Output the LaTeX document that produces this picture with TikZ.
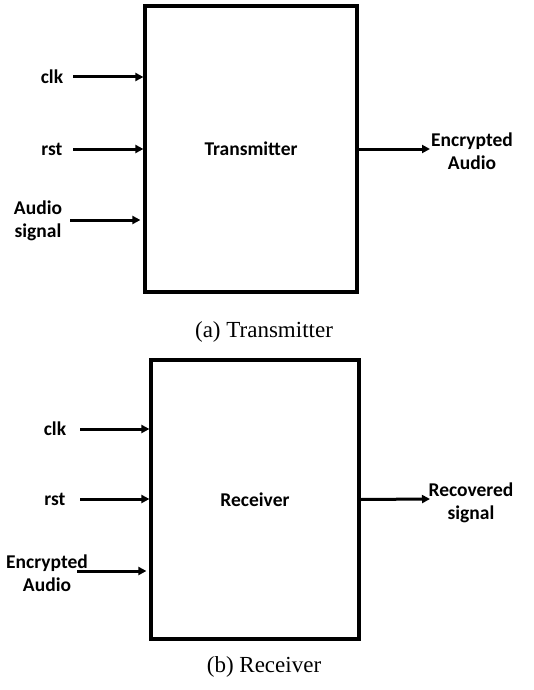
\documentclass[tikz,border=0pt]{standalone}
\usepackage{fontspec}
\setmainfont{Liberation Serif}
\newfontfamily\lblfont{Carlito}
\usetikzlibrary{arrows.meta}

\tikzset{
    block/.style={draw, line width=3.2pt, font=\lblfont\bfseries\fontsize{19.5}{22}\selectfont},
    pin/.style={font=\lblfont\bfseries\fontsize{19.5}{23}\selectfont, align=center},
    sig/.style={line width=3pt, -{Triangle[length=8pt,width=8pt]}},
    capt/.style={font=\fontsize{23}{26}\selectfont}
}

\begin{document}
\begin{tikzpicture}[x=1pt, y=-1pt]
    \useasboundingbox (0, 0) rectangle (534, 690);

    % (a) transmitter
    \node[block, minimum width=212pt, minimum height=286pt] (tx) at (251, 149) {Transmitter};
    \node[pin] (txclk) at (52, 77) {clk};
    \node[pin] (txrst) at (52, 149) {rst};
    \node[pin] (txaud) at (38, 221) {Audio\\signal};
    \node[pin] (txenc) at (472, 151) {Encrypted\\Audio};
    \coordinate (txclkin) at (73, 77);
    \coordinate (txrstin) at (73, 149);
    \coordinate (txaudin) at (70, 220);
    \coordinate (txout) at (430, 149);
    \draw[sig] (txclkin) -- (tx.west |- txclkin);
    \draw[sig] (txrstin) -- (tx.west |- txrstin);
    \draw[sig, shorten >=3pt] (txaudin) -- (tx.west |- txaudin);
    \draw[sig] (tx.east) -- (txout);
    \node[capt] (capa) at (264, 332) {(a) Transmitter};

    % (b) receiver
    \node[block, minimum width=208pt, minimum height=279pt] (rx) at (255, 499.5) {Receiver};
    \node[pin] (rxclk) at (55, 429) {clk};
    \node[pin] (rxrst) at (55, 499) {rst};
    \node[pin] (rxenc) at (47, 573) {Encrypted\\Audio};
    \node[pin] (rxrec) at (471, 503) {Recovered\\signal};
    \coordinate (rxclkin) at (80, 429);
    \coordinate (rxrstin) at (80, 499);
    \coordinate (rxencin) at (77, 571);
    \coordinate (rxout) at (430, 499);
    \draw[sig] (rxclkin) -- (rx.west |- rxclkin);
    \draw[sig] (rxrstin) -- (rx.west |- rxrstin);
    \draw[sig, shorten >=3pt] (rxencin) -- (rx.west |- rxencin);
    \draw[sig] (rx.east) -- (rxout);
    \node[capt] (capb) at (264, 667) {(b) Receiver};
\end{tikzpicture}
\end{document}
